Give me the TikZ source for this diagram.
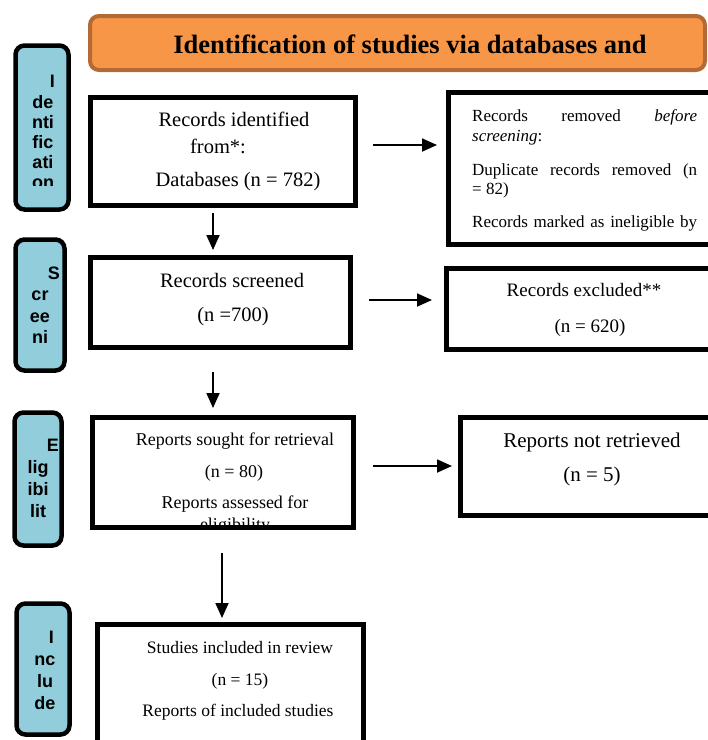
\documentclass[tikz,border=0pt]{standalone}
\usepackage{fontspec}
\setmainfont{Liberation Serif}
\setsansfont{Liberation Sans}
\usetikzlibrary{arrows.meta}
\definecolor{phaseblue}{HTML}{92CDDC}
\definecolor{headorange}{HTML}{F79646}
\definecolor{headbrown}{HTML}{B46A34}

\begin{document}
\begin{tikzpicture}[x=1pt, y=-1pt,
  phase/.style={draw, line width=4.5pt, rounded corners=9pt, fill=phaseblue, inner sep=0pt},
  stepbox/.style={draw, line width=5pt, fill=white, inner sep=0pt},
  phasetext/.style={font=\sffamily\bfseries\fontsize{18}{19}\selectfont, anchor=base, inner sep=0pt},
  boxtext/.style={font=\fontsize{#1}{#1}\selectfont, anchor=base, inner sep=0pt},
  flow/.style={line width=1.8pt, -{Triangle[length=15pt,width=13pt]}}]
  \clip (0,0) rectangle (708,740);
  \fill[white] (0,0) rectangle (708,740);

  % header
  \node[draw=headbrown, line width=4pt, rounded corners=9pt, fill=headorange,
    minimum width=615pt, minimum height=54pt] (head) at (397.5,43) {};
  \node[font=\bfseries\fontsize{26.5}{26.5}\selectfont, anchor=base] (headtext) at (410,53)
    {Identification of studies via databases and};

  % phases on the left
  \node[phase, minimum width=53pt, minimum height=164pt] (idphase) at (42,127.5) {};
  \node[phase, minimum width=49pt, minimum height=131pt] (scphase) at (40,305) {};
  \node[phase, minimum width=47pt, minimum height=133pt] (elphase) at (38,479) {};
  \node[phase, minimum width=53pt, minimum height=131pt] (inphase) at (43,669) {};

  \begin{scope}
    \clip (15,45) rectangle (70,185);
    \node[phasetext, anchor=base east] (id0) at (55,87) {I};
    \foreach \t [count=\i] in {de,nti,fic,ati,on}
      \node[phasetext] (id\i) at (43,88+20*\i) {\t};
  \end{scope}
  \node[phasetext, anchor=base east] (sc0) at (60,279) {S};
  \foreach \t [count=\i] in {cr,ee,ni}
    \node[phasetext] (sc\i) at (40,279+21.5*\i) {\t};
  \node[phasetext, anchor=base east] (el0) at (59,451) {E};
  \foreach \t [count=\i] in {lig,ibi,lit}
    \node[phasetext] (el\i) at (38,451+22*\i) {\t};
  \node[phasetext, anchor=base east] (in0) at (54,643) {I};
  \foreach \t [count=\i] in {nc,lu,de}
    \node[phasetext] (in\i) at (45,643+22*\i) {\t};

  % boxes
  \node[stepbox, minimum width=276.5pt, minimum height=152pt] (removed) at (586.75,168.5) {};
  \node[stepbox, minimum width=265pt, minimum height=108pt] (ident) at (223,151.5) {};
  \node[stepbox, minimum width=278.5pt, minimum height=81pt] (excluded) at (585.75,309) {};
  \node[stepbox, minimum width=260pt, minimum height=90pt] (screened) at (220.5,302.5) {};
  \node[stepbox, minimum width=264.5pt, minimum height=98pt] (notretr) at (592.75,466.5) {};
  \node[stepbox, minimum width=261pt, minimum height=110pt] (sought) at (223,472.5) {};
  \node[stepbox, minimum width=266pt, minimum height=135.5pt] (included) at (230.5,692.25) {};

  % texts in the boxes
  \node[boxtext=20.5] (ident1) at (234,126) {Records identified};
  \node[boxtext=20.5] (ident2) at (218,153) {from*:};
  \node[boxtext=20.5] (ident3) at (238,186) {Databases (n = 782)};

  \begin{scope}
    \clip (450,95) rectangle (708,240);
    \node[boxtext=17, anchor=base west] (rem1) at (472,121)
      {\makebox[225pt][s]{Records removed \textit{before}}};
    \node[boxtext=17, anchor=base west] (rem2) at (472,141) {\textit{screening}:};
    \node[boxtext=17, anchor=base west] (rem3) at (472,175)
      {\makebox[225pt][s]{Duplicate records removed (n}};
    \node[boxtext=17, anchor=base west] (rem4) at (472,194) {= 82)};
    \node[boxtext=17, anchor=base west] (rem5) at (472,227)
      {\makebox[225pt][s]{Records marked as ineligible by}};
  \end{scope}

  \node[boxtext=20.5] (scr1) at (232,287) {Records screened};
  \node[boxtext=20.5] (scr2) at (233,321) {(n =700)};
  \node[boxtext=19] (exc1) at (584,296) {Records excluded**};
  \node[boxtext=19] (exc2) at (590,332) {(n = 620)};

  \begin{scope}
    \clip (95,420) rectangle (351,524);
    \node[boxtext=18] (sou1) at (235,445) {Reports sought for retrieval};
    \node[boxtext=18] (sou2) at (234,477) {(n = 80)};
    \node[boxtext=18] (sou3) at (235,508) {Reports assessed for};
    \node[boxtext=18] (sou4) at (235,530) {eligibility};
  \end{scope}

  \node[boxtext=21] (not1) at (592,447) {Reports not retrieved};
  \node[boxtext=21] (not2) at (592,481) {(n = 5)};

  \node[boxtext=17.5] (inc1) at (240,653) {Studies included in review};
  \node[boxtext=17.5] (inc2) at (240,685) {(n = 15)};
  \node[boxtext=17.5] (inc3) at (238,716) {Reports of included studies};

  % connectors
  \draw[flow, shorten <=15pt, shorten >=9pt]
    ([yshift=6.5pt]ident.east) -- ([yshift=6.5pt]ident.east -| removed.west);
  \draw[flow, shorten <=5pt, shorten >=5pt]
    ([xshift=-10pt]ident.south) -- ([xshift=-10pt]ident.south |- screened.north);
  \draw[flow, shorten <=16pt, shorten >=12pt]
    ([yshift=2.5pt]screened.east) -- ([yshift=2.5pt]screened.east -| excluded.west);
  \draw[flow, shorten <=22pt, shorten >=7pt]
    ([xshift=-7.5pt]screened.south) -- ([xshift=-7.5pt]screened.south |- sought.north);
  \draw[flow, shorten <=17pt, shorten >=6pt]
    ([yshift=6.5pt]sought.east) -- ([yshift=6.5pt]sought.east -| notretr.west);
  \draw[flow, shorten <=23pt, shorten >=4pt]
    ([xshift=-1pt]sought.south) -- ([xshift=-1pt]sought.south |- included.north);
\end{tikzpicture}
\end{document}
